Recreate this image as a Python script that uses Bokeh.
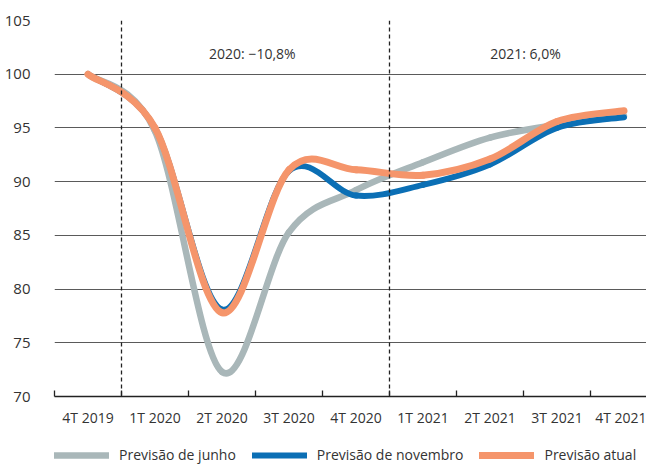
from bokeh.plotting import figure
from bokeh.layouts import column
from bokeh.models import FixedTicker, Span, Legend, LegendItem, ColumnDataSource, Range1d
from bokeh.core.properties import value
from bokeh.embed import file_html
from bokeh.resources import INLINE

quarters = ["4T 2019", "1T 2020", "2T 2020", "3T 2020", "4T 2020",
            "1T 2021", "2T 2021", "3T 2021", "4T 2021"]
previsao_junho = [100.0, 94.7, 72.3, 85.3, 89.2, 91.8, 94.1, 95.3, 96.1]
previsao_novembro = [100.0, 95.0, 78.1, 91.0, 88.7, 89.7, 91.6, 95.0, 96.0]
previsao_atual = [100.0, 95.0, 77.8, 91.1, 91.1, 90.6, 92.1, 95.6, 96.6]
year_labels = ["2020:  \u221210,8%", "2021: 6,0%"]
year_breaks = [0.5, 4.5]
y_ticks = [70, 75, 80, 85, 90, 95, 100, 105]

FONT = "Open Sans"
TEXT = "#333333"

p = figure(width=646, height=440, output_backend="svg", toolbar_location=None,
           x_range=Range1d(-0.5, 8.336), y_range=Range1d(70, 105),
           min_border_left=54, min_border_right=0, min_border_top=20, min_border_bottom=44)
p.outline_line_color = None
p.background_fill_color = "white"

# grid
p.xgrid.grid_line_color = None
p.ygrid.ticker = FixedTicker(ticks=y_ticks)
p.ygrid.grid_line_color = "#5a5a5a"
p.ygrid.grid_line_width = 1

# y axis
p.yaxis.ticker = FixedTicker(ticks=y_ticks)
p.yaxis.axis_line_color = None
p.yaxis.major_tick_line_color = None
p.yaxis.minor_tick_line_color = None
p.yaxis.major_label_standoff = 18
p.yaxis.major_label_text_font = FONT
p.yaxis.major_label_text_font_size = "15px"
p.yaxis.major_label_text_color = TEXT

# x axis
xs = list(range(len(quarters)))
p.xaxis.ticker = FixedTicker(ticks=xs, minor_ticks=[i - 0.5 for i in range(len(quarters) + 1)])
p.xaxis.major_label_overrides = {i: q for i, q in enumerate(quarters)}
p.xaxis.major_tick_line_color = None
p.xaxis.major_tick_in = 0
p.xaxis.major_tick_out = 0
p.xaxis.minor_tick_in = 6
p.xaxis.minor_tick_out = 0
p.xaxis.minor_tick_line_color = "#222222"
p.xaxis.minor_tick_line_width = 1.3
p.xaxis.axis_line_color = "#222222"
p.xaxis.axis_line_width = 1.5
p.xaxis.major_label_standoff = 11
p.xaxis.major_label_text_font = FONT
p.xaxis.major_label_text_font_size = "14px"
p.xaxis.major_label_text_color = TEXT

for b in year_breaks:
    p.add_layout(Span(location=b, dimension="height", line_color="#222222",
                      line_width=1.3, line_dash="4 3"))


def smooth_source(ys):
    n = len(ys)
    x = list(range(n))
    def pt(i):
        i = max(0, min(n - 1, i))
        return x[i], ys[i]
    d = dict(x0=[], y0=[], x1=[], y1=[], cx0=[], cy0=[], cx1=[], cy1=[])
    for i in range(n - 1):
        xm, ym = pt(i - 1)
        xa, ya = pt(i)
        xb, yb = pt(i + 1)
        xc, yc = pt(i + 2)
        d["x0"].append(xa); d["y0"].append(ya)
        d["x1"].append(xb); d["y1"].append(yb)
        d["cx0"].append(xa + (xb - xm) / 6.0); d["cy0"].append(ya + (yb - ym) / 6.0)
        d["cx1"].append(xb - (xc - xa) / 6.0); d["cy1"].append(yb - (yc - ya) / 6.0)
    return ColumnDataSource(d)


series = [
    ("Previs\u00e3o de junho", previsao_junho, "#A9B7B9", 6.5),
    ("Previs\u00e3o de novembro", previsao_novembro, "#0B6FB5", 6),
    ("Previs\u00e3o atual", previsao_atual, "#F5956B", 7),
]
for name, ys, color, w in series:
    p.bezier(x0="x0", y0="y0", x1="x1", y1="y1", cx0="cx0", cy0="cy0",
             cx1="cx1", cy1="cy1", source=smooth_source(ys),
             line_color=color, line_width=w, line_cap="round")

p.text(x=[2.48, 6.53], y=[101.9, 101.9], text=year_labels,
       text_font=value(FONT), text_font_size="14px", text_color=TEXT,
       text_align="center", text_baseline="middle")

# legend row (series drawn out of its visible range; only the legend shows)
lg = figure(width=646, height=25, output_backend="svg", toolbar_location=None,
            x_axis_type=None, y_axis_type=None, x_range=Range1d(0, 1), y_range=Range1d(0, 1),
            min_border_left=0, min_border_right=0, min_border_top=0, min_border_bottom=0)
lg.outline_line_color = None
lg.xgrid.grid_line_color = None
lg.ygrid.grid_line_color = None
items = []
for name, ys, color, w in series:
    r = lg.line(x=xs, y=ys, line_color=color, line_width=w, line_cap="round")
    items.append(LegendItem(label=name, renderers=[r]))
legend = Legend(items=items, orientation="horizontal", location=(0, 1),
                glyph_width=55, glyph_height=12, label_height=14, label_standoff=10,
                spacing=16, padding=0, margin=0, border_line_color=None,
                label_text_font=FONT, label_text_font_size="14px",
                label_text_color=TEXT, background_fill_alpha=0)
lg.add_layout(legend, "center")

layout = column(p, lg, spacing=0)
open("out.html", "w").write(file_html(layout, INLINE))
